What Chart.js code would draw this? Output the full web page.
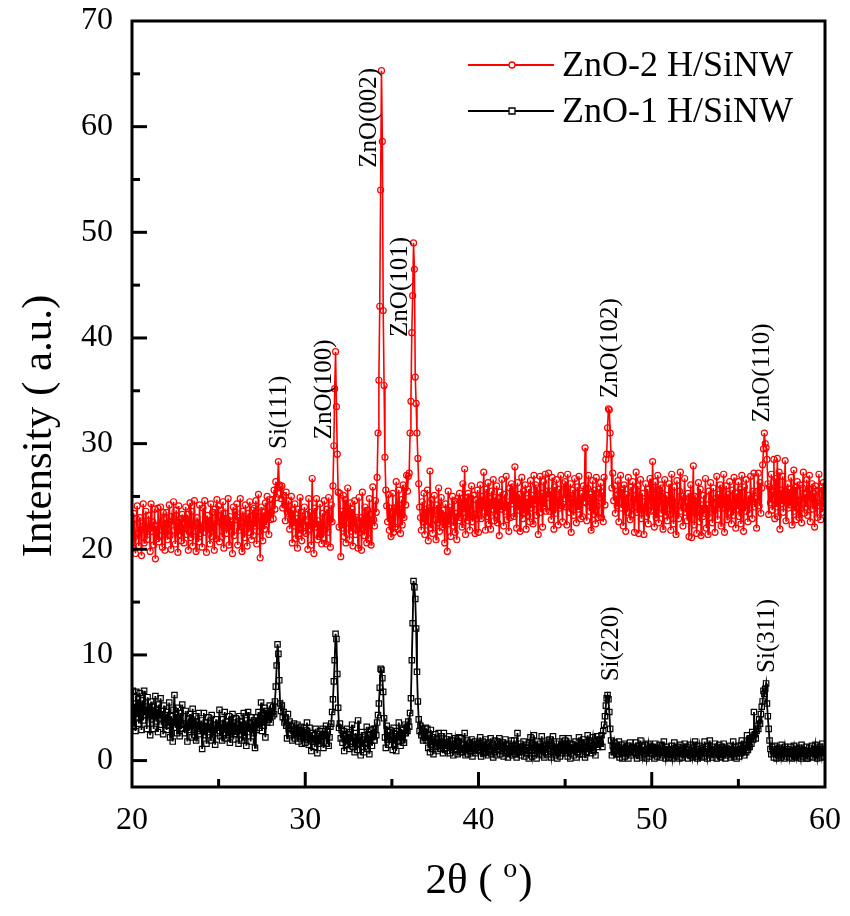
<!DOCTYPE html>
<html>
<head>
<meta charset="utf-8">
<title>XRD ZnO/SiNW</title>
<script src="https://cdn.jsdelivr.net/npm/chart.js@4.4.0/dist/chart.umd.min.js"></script>
<style>
  html, body { margin: 0; padding: 0; background: #fff; }
</style>
</head>
<body>
<canvas id="xrdChart" width="850" height="916"></canvas>
<script>
// 2theta grid of the scan
const twoThetaStart = 20;
const twoThetaStep = 0.05;

// ZnO-2 H/SiNW (red), one row per degree
const zno2Intensity = [
  22.5, 20.1, 23.4, 21.2, 19.6, 22.9, 24.1, 21.5, 20.3, 23.0, 21.8, 19.4, 22.7, 24.3, 20.6, 22.1, 23.6, 20.9, 21.7, 23.2,
  22.0, 19.8, 24.3, 21.7, 22.6, 20.4, 23.8, 19.1, 22.2, 21.0, 23.9, 20.7, 22.4, 24.0, 21.3, 20.2, 23.5, 22.8, 19.9, 21.6,
  23.5, 20.9, 22.4, 24.2, 21.3, 20.0, 23.1, 22.7, 24.5, 21.8, 20.5, 23.7, 22.0, 19.7, 24.1, 21.4, 22.9, 20.8, 23.3, 21.9,
  20.6, 22.9, 24.0, 21.4, 23.3, 19.9, 22.5, 24.4, 21.1, 23.6, 20.3, 22.2, 24.6, 21.7, 19.8, 23.0, 22.4, 20.7, 24.2, 21.5,
  22.0, 20.2, 23.9, 21.6, 24.6, 22.8, 19.7, 23.2, 21.9, 22.4, 20.5, 24.3, 21.2, 23.5, 22.1, 19.9, 23.8, 21.0, 24.7, 22.6,
  24.1, 20.7, 22.6, 23.7, 21.2, 24.5, 20.1, 22.9, 23.4, 21.5, 22.2, 24.8, 20.4, 23.1, 21.8, 22.7, 19.6, 24.0, 21.3, 23.6,
  22.8, 24.3, 20.4, 23.0, 21.8, 24.8, 22.1, 19.8, 23.6, 22.5, 21.1, 24.2, 22.9, 20.3, 23.4, 21.6, 24.5, 22.2, 20.9, 23.7,
  21.3, 23.9, 22.2, 24.6, 20.5, 23.1, 25.2, 21.7, 19.2, 24.0, 22.6, 20.8, 23.5, 21.9, 24.4, 22.3, 25.0, 23.2, 21.4, 24.7,
  22.8, 23.5, 24.7, 22.9, 25.6, 23.8, 26.4, 24.9, 25.8, 28.3, 26.1, 25.9, 24.8, 26.0, 23.9, 25.1, 24.2, 22.7, 25.4, 23.6,
  23.4, 24.6, 21.9, 22.8, 25.0, 20.6, 23.7, 22.2, 24.3, 21.0, 22.9, 20.1, 23.8, 21.5, 24.9, 22.4, 20.8, 23.1, 21.7, 24.0,
  23.3, 21.5, 22.6, 20.0, 24.8, 21.9, 23.5, 20.4, 26.7, 22.3, 19.6, 23.9, 22.1, 24.8, 20.9, 22.7, 21.2, 24.3, 22.0, 20.5,
  23.4, 21.1, 24.6, 22.3, 20.5, 23.8, 21.6, 24.9, 22.8, 20.2, 24.2, 22.6, 26.0, 29.8, 35.2, 38.7, 33.5, 29.0, 25.4, 22.1,
  25.3, 19.3, 23.6, 22.0, 25.1, 21.2, 24.7, 20.6, 23.2, 25.8, 22.5, 20.9, 24.4, 21.7, 23.8, 20.3, 22.9, 24.6, 21.4, 23.0,
  22.4, 20.1, 24.9, 21.6, 23.0, 19.9, 25.4, 22.7, 21.3, 24.0, 22.1, 20.6, 23.7, 21.0, 24.8, 22.5, 20.4, 23.3, 25.9, 22.8,
  22.2, 24.6, 23.5, 26.8, 31.0, 36.0, 43.0, 54.0, 65.3, 58.6, 42.6, 35.5, 28.7, 25.6, 24.1, 22.6, 25.2, 21.8, 23.9, 21.2,
  22.8, 25.3, 21.6, 23.9, 22.1, 26.4, 24.0, 21.9, 25.6, 23.4, 21.5, 24.7, 22.3, 26.1, 23.0, 25.8, 24.2, 27.0, 25.5, 26.9,
  27.2, 31.0, 34.0, 40.5, 44.0, 49.0, 46.5, 36.3, 33.8, 31.0, 28.6, 26.2, 24.0, 23.0, 21.8, 24.5, 22.6, 25.3, 21.4, 23.8,
  22.3, 25.6, 20.8, 23.9, 27.4, 22.0, 24.7, 21.5, 23.6, 25.1, 22.8, 20.9, 24.2, 22.5, 25.8, 21.7, 23.3, 24.9, 22.1, 23.7,
  22.9, 20.6, 24.3, 23.1, 19.8, 25.5, 22.4, 24.0, 21.2, 23.7, 25.0, 22.2, 24.6, 21.6, 23.4, 20.9, 24.8, 22.7, 25.3, 23.0,
  24.8, 22.1, 26.2, 23.5, 27.6, 21.4, 24.9, 22.7, 25.3, 23.0, 21.8, 24.4, 26.0, 22.6, 25.1, 23.3, 21.5, 24.7, 22.9, 25.6,
  21.6, 24.4, 26.1, 22.9, 25.0, 23.6, 27.3, 24.2, 21.8, 25.7, 23.1, 26.3, 22.4, 24.8, 21.9, 25.5, 23.8, 26.6, 22.7, 24.9,
  23.3, 26.0, 22.5, 24.8, 21.3, 25.4, 23.8, 26.6, 24.1, 22.2, 25.2, 23.6, 26.9, 22.8, 24.5, 21.7, 25.8, 23.0, 26.2, 24.3,
  25.9, 23.1, 27.8, 24.5, 22.0, 26.3, 23.7, 25.2, 21.7, 24.6, 26.8, 22.9, 25.5, 23.4, 26.1, 21.9, 24.8, 23.2, 25.7, 22.6,
  26.5, 23.9, 25.1, 22.4, 27.0, 24.3, 26.1, 23.2, 25.8, 21.4, 24.7, 26.9, 23.5, 25.3, 22.1, 26.4, 24.0, 27.1, 23.6, 25.5,
  24.9, 27.2, 23.6, 25.5, 22.8, 26.8, 24.2, 21.9, 25.9, 23.4, 26.6, 24.5, 22.3, 25.7, 23.9, 27.0, 24.1, 22.6, 26.2, 24.8,
  26.4, 24.0, 22.3, 27.1, 25.0, 23.5, 26.2, 21.6, 24.7, 25.6, 23.2, 26.7, 24.4, 22.5, 25.9, 23.8, 26.9, 24.6, 22.9, 25.3,
  23.1, 26.0, 24.5, 29.6, 24.4, 22.7, 25.8, 27.0, 23.6, 25.2, 21.8, 24.9, 26.5, 23.3, 25.6, 22.4, 26.8, 24.1, 23.0, 25.7,
  24.9, 26.3, 23.0, 25.4, 22.6, 26.8, 24.2, 28.5, 29.0, 31.5, 33.3, 33.2, 31.0, 29.0, 25.8, 27.2, 24.6, 26.0, 23.4, 25.1,
  24.1, 26.5, 22.6, 25.4, 27.0, 23.9, 25.7, 22.2, 26.1, 24.4, 21.7, 25.2, 23.5, 26.8, 24.0, 22.8, 25.9, 23.3, 26.4, 24.7,
  21.6, 25.1, 27.3, 23.5, 26.0, 21.5, 24.8, 26.6, 22.9, 25.3, 23.8, 21.4, 24.5, 26.2, 23.1, 25.7, 22.4, 24.9, 26.7, 23.6,
  23.7, 28.3, 24.2, 22.1, 26.4, 23.0, 25.6, 27.0, 22.5, 24.9, 26.1, 23.4, 25.8, 21.9, 24.3, 26.6, 23.2, 25.1, 22.7, 24.6,
  26.2, 23.3, 21.8, 27.1, 24.6, 22.4, 25.9, 23.8, 21.4, 26.5, 24.1, 22.9, 25.5, 27.3, 23.6, 25.0, 22.2, 24.8, 26.7, 23.5,
  24.0, 22.7, 25.3, 21.2, 23.6, 26.1, 21.1, 24.5, 27.9, 22.3, 25.0, 23.4, 21.5, 24.9, 26.3, 22.6, 25.7, 21.3, 24.2, 23.1,
  25.1, 23.4, 26.7, 22.0, 24.2, 21.4, 25.5, 23.0, 26.3, 24.6, 22.5, 25.8, 23.7, 21.6, 24.8, 26.9, 22.8, 25.2, 23.9, 26.1,
  22.2, 25.8, 23.9, 27.1, 21.6, 24.7, 26.0, 22.8, 25.2, 23.5, 26.4, 24.1, 22.4, 25.6, 23.2, 26.8, 24.5, 22.0, 25.3, 23.8,
  26.4, 23.1, 25.7, 22.4, 27.0, 24.3, 21.7, 25.9, 23.6, 26.6, 24.2, 22.6, 25.1, 23.4, 26.9, 24.7, 22.9, 25.5, 27.2, 24.0,
  24.8, 22.0, 25.5, 27.2, 24.1, 26.3, 23.4, 25.8, 28.0, 29.5, 31.0, 30.0, 29.6, 28.5, 26.2, 23.3, 25.9, 24.4, 27.1, 23.7,
  25.4, 28.5, 22.9, 26.7, 24.0, 28.6, 23.1, 27.3, 21.9, 25.6, 24.3, 26.9, 23.5, 25.1, 28.4, 22.7, 24.8, 26.2, 23.9, 25.7,
  24.2, 26.8, 22.3, 25.1, 27.5, 23.6, 25.9, 22.8, 26.4, 24.5, 23.0, 26.1, 24.7, 22.5, 25.8, 27.3, 23.4, 25.2, 24.0, 26.6,
  23.2, 25.7, 27.0, 22.6, 24.9, 26.2, 23.8, 25.3, 22.1, 26.0, 24.4, 23.0, 25.6, 27.1, 24.1, 22.8, 25.9, 23.5, 26.3, 24.6,
  24.4
];

// ZnO-1 H/SiNW (black)
const zno1Intensity = [
  4.6, 6.6, 3.2, 5.4, 2.8, 6.5, 4.1, 5.8, 3.5, 6.4, 4.9, 2.9, 5.7, 3.8, 6.6, 4.3, 5.1, 3.0, 6.0, 4.4,
  4.8, 2.4, 5.6, 3.9, 5.1, 3.0, 4.5, 6.1, 3.7, 4.9, 2.7, 5.3, 4.0, 5.9, 3.4, 4.7, 2.5, 5.2, 3.6, 4.3,
  2.9, 4.6, 3.3, 5.5, 2.2, 4.2, 3.6, 1.8, 4.8, 6.2, 3.1, 4.4, 2.6, 5.0, 3.8, 2.3, 4.5, 3.0, 5.3, 3.5,
  3.4, 2.6, 4.7, 3.1, 1.8, 4.0, 2.9, 4.4, 3.3, 2.2, 4.9, 3.6, 2.4, 4.2, 1.9, 3.7, 2.8, 4.5, 3.2, 2.5,
  3.8, 1.1, 3.0, 4.5, 2.4, 3.6, 1.6, 3.2, 4.1, 2.7, 3.5, 1.9, 4.3, 2.2, 3.4, 2.9, 1.5, 3.9, 2.6, 3.3,
  3.1, 4.8, 2.3, 3.5, 1.9, 3.9, 2.6, 4.6, 3.0, 2.1, 3.7, 2.4, 4.2, 1.7, 3.3, 2.8, 4.4, 2.0, 3.6, 2.5,
  4.0, 2.8, 3.4, 1.6, 4.2, 2.5, 3.7, 1.9, 3.2, 4.5, 2.3, 3.8, 1.4, 3.1, 4.6, 2.7, 3.5, 1.8, 4.1, 2.9,
  2.6, 3.8, 1.2, 4.1, 2.9, 3.5, 4.6, 3.1, 4.0, 5.5, 2.8, 4.3, 3.3, 5.0, 2.2, 4.7, 3.6, 4.4, 3.9, 5.2,
  3.6, 4.5, 4.2, 5.1, 4.4, 5.6, 7.0, 9.0, 11.0, 10.1, 7.6, 5.4, 4.7, 5.2, 4.1, 4.6, 3.6, 4.0, 3.3, 2.1,
  4.4, 3.0, 3.7, 2.6, 3.3, 1.9, 2.8, 3.5, 2.1, 3.0, 2.5, 3.4, 1.8, 2.9, 2.3, 3.2, 1.6, 2.7, 2.2, 3.1,
  1.7, 2.9, 3.6, 2.2, 1.5, 3.1, 2.0, 0.9, 2.6, 1.8, 2.4, 1.3, 3.0, 2.1, 0.7, 2.5, 1.6, 2.8, 1.9, 2.3,
  3.0, 1.2, 2.5, 2.3, 3.3, 1.6, 2.8, 1.4, 2.2, 3.2, 3.5, 4.6, 5.8, 7.5, 9.5, 12.0, 11.5, 8.2, 5.0, 3.1,
  3.5, 2.1, 2.9, 1.7, 2.8, 0.9, 2.4, 1.5, 3.0, 1.9, 2.5, 1.1, 2.7, 1.8, 3.4, 1.3, 2.2, 0.8, 2.6, 1.6,
  1.0, 3.8, 1.6, 2.2, 0.5, 2.7, 1.3, 2.0, 0.8, 2.4, 1.7, 3.2, 1.1, 2.5, 0.6, 1.9, 2.9, 1.4, 2.3, 3.0,
  1.9, 3.0, 2.4, 3.6, 4.3, 5.4, 6.9, 8.7, 8.6, 7.8, 6.5, 4.0, 2.2, 1.2, 3.3, 2.0, 2.7, 1.5, 2.9, 2.2,
  2.0, 1.0, 3.1, 1.6, 2.5, 0.9, 2.8, 1.8, 3.6, 2.4, 1.4, 3.0, 2.2, 2.9, 1.7, 3.4, 2.6, 3.2, 2.8, 3.7,
  3.2, 4.5, 5.9, 9.5, 13.0, 17.0, 16.4, 15.3, 12.5, 8.4, 5.6, 3.9, 2.8, 3.3, 2.4, 3.0, 1.9, 2.7, 2.2, 3.1,
  1.9, 3.0, 1.2, 2.4, 0.8, 2.9, 1.5, 2.2, 0.6, 1.8, 2.5, 1.3, 2.0, 0.9, 2.6, 1.6, 1.1, 2.3, 1.4, 0.7,
  2.6, 1.1, 1.7, 2.0, 0.9, 1.4, 2.3, 0.7, 1.6, 1.2, 1.9, 0.5, 1.5, 2.1, 1.0, 1.8, 0.6, 1.3, 2.2, 0.8,
  2.1, 0.8, 1.5, 1.0, 2.6, 0.5, 1.3, 1.9, 0.6, 1.2, 1.7, 0.9, 2.0, 0.4, 1.4, 1.1, 1.8, 0.7, 1.6, 1.0,
  1.6, 0.9, 2.2, 0.4, 1.4, 1.8, 0.7, 1.1, 2.0, 0.8, 1.3, 0.5, 1.7, 1.0, 2.1, 0.6, 1.5, 0.3, 1.2, 1.9,
  1.3, 0.5, 1.8, 1.0, 2.1, 0.6, 1.5, 0.9, 1.7, 0.4, 1.2, 2.0, 0.7, 1.4, 0.3, 1.6, 1.1, 0.8, 1.9, 0.5,
  1.1, 1.9, 0.6, 1.4, 0.3, 2.6, 1.2, 0.8, 1.6, 0.5, 1.3, 0.9, 1.8, 0.4, 1.0, 1.5, 0.7, 1.2, 0.2, 1.7,
  2.2, 1.0, 0.4, 1.5, 2.4, 0.7, 1.3, 0.2, 1.8, 1.1, 0.6, 1.6, 0.9, 2.3, 0.5, 1.2, 0.3, 1.4, 0.8, 1.9,
  0.6, 1.7, 2.0, 0.9, 0.3, 1.4, 2.3, 0.8, 1.2, 0.5, 1.6, 0.2, 1.1, 1.8, 0.4, 1.3, 0.7, 2.1, 0.9, 1.5,
  1.9, 0.7, 1.3, 0.4, 2.1, 1.0, 0.2, 1.6, 0.9, 1.5, 0.5, 1.2, 1.8, 0.3, 1.4, 0.8, 2.2, 0.6, 1.1, 1.7,
  0.6, 2.0, 1.2, 0.3, 1.7, 0.8, 2.4, 1.1, 1.9, 1.4, 0.7, 1.6, 2.2, 1.0, 1.8, 0.5, 1.5, 2.3, 1.3, 1.9,
  2.0, 1.6, 2.4, 1.3, 2.8, 3.4, 4.2, 5.2, 5.9, 6.2, 5.8, 4.6, 3.0, 1.9, 0.5, 1.4, 0.8, 1.7, 1.1, 0.6,
  1.3, 0.6, 1.8, 0.3, 1.1, 1.5, 0.2, 0.9, 1.6, 0.4, 1.2, 0.7, 1.4, 0.2, 1.0, 1.7, 0.5, 1.1, 0.8, 1.3,
  1.2, 0.7, 1.7, 0.2, 1.0, 1.4, 0.5, 1.9, 0.8, 0.3, 1.3, 0.6, 1.5, 0.9, 0.2, 1.1, 1.6, 0.4, 1.2, 0.7,
  1.3, 0.6, 1.1, 0.2, 1.6, 0.9, 0.4, 1.2, 0.7, 1.5, 0.3, 1.0, 1.4, 0.5, 1.8, 0.8, 0.2, 1.3, 0.6, 1.1,
  0.3, 1.0, 0.6, 1.4, 0.2, 0.8, 1.7, 0.5, 1.1, 0.4, 1.3, 0.7, 0.2, 1.5, 0.9, 0.3, 1.2, 0.6, 1.6, 0.8,
  1.3, 0.7, 0.2, 1.0, 0.5, 1.5, 0.9, 0.3, 1.2, 0.6, 1.8, 0.4, 1.1, 0.2, 0.8, 1.4, 0.5, 1.0, 0.3, 1.2,
  0.4, 1.8, 1.1, 0.7, 0.2, 1.4, 0.8, 1.9, 0.5, 1.0, 0.3, 1.3, 0.6, 1.6, 0.9, 0.2, 1.2, 0.7, 1.5, 0.4,
  0.3, 1.3, 0.6, 1.6, 0.9, 0.2, 1.2, 0.5, 1.0, 0.7, 1.4, 0.3, 1.1, 0.6, 1.8, 0.4, 0.9, 1.3, 0.2, 1.0,
  1.4, 0.4, 1.1, 0.7, 1.9, 0.9, 1.5, 0.5, 1.2, 0.8, 2.4, 1.0, 1.8, 1.3, 2.1, 1.6, 2.7, 2.0, 4.6, 2.5,
  2.1, 2.8, 3.3, 3.0, 3.9, 3.5, 4.4, 5.1, 5.6, 6.6, 6.3, 6.8, 7.3, 5.4, 4.2, 3.0, 1.9, 1.1, 0.6, 1.3,
  0.9, 0.3, 1.4, 0.7, 0.2, 1.1, 0.5, 1.2, 0.8, 0.3, 1.5, 0.6, 1.0, 0.2, 1.3, 0.7, 0.4, 1.1, 0.9, 0.3,
  1.3, 0.6, 0.2, 1.0, 1.4, 0.4, 0.8, 0.3, 1.1, 0.5, 1.2, 0.7, 0.2, 1.5, 0.9, 0.4, 1.0, 0.6, 1.3, 0.2,
  0.2, 0.9, 1.2, 0.4, 0.7, 1.4, 0.3, 1.0, 0.6, 1.5, 0.8, 0.2, 1.1, 0.5, 1.3, 0.7, 0.3, 1.6, 0.9, 0.4,
  0.8
];

const seriesNames = ["ZnO-2 H/SiNW", "ZnO-1 H/SiNW"];
const xTickValues = [20, 30, 40, 50, 60];
const yTickValues = [0, 10, 20, 30, 40, 50, 60, 70];

// peak labels: text, 2theta of the label, intensity where the text starts
const peakLabels = ["Si(111)", "ZnO(100)", "ZnO(002)", "ZnO(101)", "ZnO(102)", "ZnO(110)", "Si(220)", "Si(311)"];
const peakLabelX = [28.5, 31.1, 33.7, 35.5, 47.6, 56.4, 47.7, 56.7];
const peakLabelY = [29.5, 30.4, 56.1, 40.1, 34.3, 32.0, 7.5, 8.3];

const SERIF = "'Liberation Serif', 'Times New Roman', serif";

function toPoints(values) {
  return values.map((v, i) => ({ x: +(twoThetaStart + i * twoThetaStep).toFixed(2), y: v }));
}

const framePlugin = {
  id: "framePlugin",
  afterDraw(chart) {
    const { ctx, chartArea: a, scales: { x, y } } = chart;
    ctx.save();

    // peak labels
    ctx.fillStyle = "#000";
    ctx.font = "25px " + SERIF;
    ctx.textAlign = "left";
    ctx.textBaseline = "middle";
    peakLabels.forEach((text, i) => {
      ctx.save();
      ctx.translate(x.getPixelForValue(peakLabelX[i]), y.getPixelForValue(peakLabelY[i]));
      ctx.rotate(-Math.PI / 2);
      ctx.fillText(text, 0, 0);
      ctx.restore();
    });

    // box
    ctx.strokeStyle = "#000";
    ctx.lineWidth = 3;
    ctx.strokeRect(a.left, a.top, a.right - a.left, a.bottom - a.top);

    // inward ticks, bottom and left only
    ctx.lineWidth = 3;
    ctx.lineCap = "butt";
    for (let v = 25; v < 60; v += 5) {
      const px = x.getPixelForValue(v);
      const len = v % 10 === 0 ? 15 : 8;
      ctx.beginPath();
      ctx.moveTo(px, a.bottom);
      ctx.lineTo(px, a.bottom - len);
      ctx.stroke();
    }
    for (let v = 0; v < 70; v += 5) {
      const py = y.getPixelForValue(v);
      const len = v % 10 === 0 ? 15 : 8;
      ctx.beginPath();
      ctx.moveTo(a.left, py);
      ctx.lineTo(a.left + len, py);
      ctx.stroke();
    }

    // legend
    chart.data.datasets.forEach((ds, i) => {
      const ly = a.top + 44 + i * 46;
      ctx.strokeStyle = ds.borderColor;
      ctx.lineWidth = 2;
      ctx.beginPath();
      ctx.moveTo(a.left + 336, ly);
      ctx.lineTo(a.left + 422, ly);
      ctx.stroke();
      ctx.fillStyle = "#fff";
      ctx.lineWidth = 1.3;
      ctx.beginPath();
      if (ds.pointStyle === "circle") {
        ctx.arc(a.left + 380, ly, 3, 0, Math.PI * 2);
      } else {
        ctx.rect(a.left + 377, ly - 3, 6, 6);
      }
      ctx.fill();
      ctx.stroke();
      ctx.fillStyle = "#000";
      ctx.font = "36px " + SERIF;
      ctx.textAlign = "left";
      ctx.textBaseline = "middle";
      ctx.fillText(ds.label, a.left + 430, ly + 2);
    });

    // y title
    ctx.save();
    ctx.translate(40, 426);
    ctx.rotate(-Math.PI / 2);
    ctx.font = "43px " + SERIF;
    ctx.textAlign = "center";
    ctx.textBaseline = "middle";
    ctx.fillText("Intensity ( a.u.)", 0, 0);
    ctx.restore();

    // x title with superscript degree mark
    const main = "43px " + SERIF, sup = "28px " + SERIF;
    ctx.textAlign = "left";
    ctx.textBaseline = "alphabetic";
    ctx.font = main;
    const w1 = ctx.measureText("2\u03b8 ( ").width;
    const w3 = ctx.measureText(")").width;
    ctx.font = sup;
    const w2 = ctx.measureText("o").width;
    const tx = (a.left + a.right) / 2 - (w1 + w2 + w3) / 2;
    const base = 893;
    ctx.font = main;
    ctx.fillText("2\u03b8 ( ", tx, base);
    ctx.font = sup;
    ctx.fillText("o", tx + w1, base - 16);
    ctx.font = main;
    ctx.fillText(")", tx + w1 + w2 + 1, base);

    ctx.restore();
  }
};

const ctx = document.getElementById("xrdChart").getContext("2d");

new Chart(ctx, {
  type: "line",
  data: {
    datasets: [{
      label: seriesNames[0],
      data: toPoints(zno2Intensity),
      borderColor: "#ff0000",
      backgroundColor: "rgba(255,255,255,0)",
      borderWidth: 1.6,
      pointStyle: "circle",
      pointRadius: 3,
      pointBorderWidth: 1.2,
      pointBackgroundColor: "rgba(255,255,255,0)",
      pointBorderColor: "#ff0000",
      tension: 0
    }, {
      label: seriesNames[1],
      data: toPoints(zno1Intensity),
      borderColor: "#000000",
      backgroundColor: "rgba(255,255,255,0)",
      borderWidth: 1.8,
      pointStyle: "rect",
      pointRadius: 3.8,
      pointBorderWidth: 1.2,
      pointBackgroundColor: "rgba(255,255,255,0)",
      pointBorderColor: "#000000",
      tension: 0
    }]
  },
  options: {
    responsive: false,
    animation: false,
    devicePixelRatio: 1,
    layout: { padding: { top: 21, right: 25, left: 0, bottom: 0 } },
    plugins: {
      legend: { display: false },
      tooltip: { enabled: false }
    },
    scales: {
      x: {
        type: "linear",
        min: 20,
        max: 60,
        grid: { display: false, drawTicks: false },
        border: { display: false },
        afterBuildTicks: (scale) => { scale.ticks = xTickValues.map(v => ({ value: v })); },
        afterFit: (scale) => {
          scale.height = 129;
          scale.paddingLeft = 0;
          scale.paddingRight = 0;
        },
        ticks: {
          color: "#000",
          padding: 14,
          maxRotation: 0,
          font: { family: SERIF, size: 32 }
        }
      },
      y: {
        min: -2.5,
        max: 70,
        grid: { display: false, drawTicks: false },
        border: { display: false },
        afterBuildTicks: (scale) => { scale.ticks = yTickValues.map(v => ({ value: v })); },
        afterFit: (scale) => {
          scale.width = 132;
          scale.paddingTop = 0;
          scale.paddingBottom = 0;
        },
        ticks: {
          color: "#000",
          padding: 19,
          font: { family: SERIF, size: 32 }
        }
      }
    }
  },
  plugins: [framePlugin]
});
</script>
</body>
</html>
